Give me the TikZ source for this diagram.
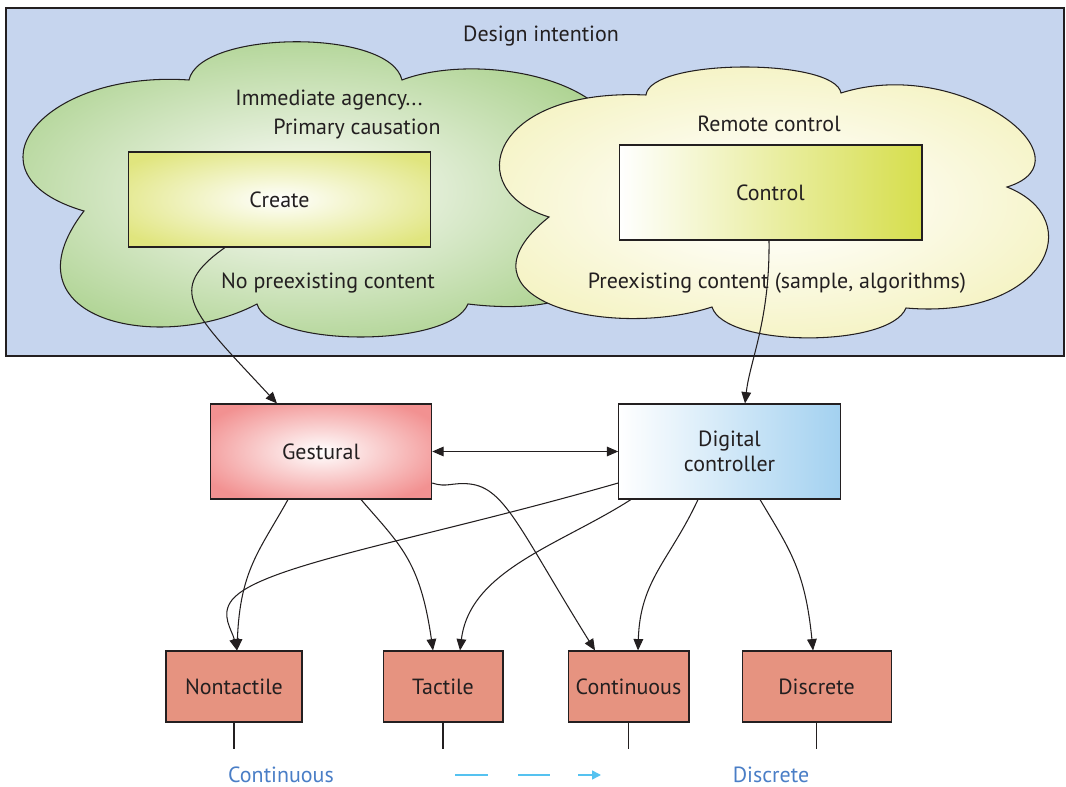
\documentclass[tikz,border=0pt]{standalone}
\usepackage{xcolor}
\usepackage{fontspec}
\setmainfont{PT Sans}
\usepackage{tikz}
\usetikzlibrary{positioning, arrows.meta}

\definecolor{skyback}{HTML}{C6D5EE}
\definecolor{inkgray}{HTML}{231F20}
\definecolor{leafgreen}{HTML}{A8D08A}
\definecolor{leaflight}{HTML}{F2F6EC}
\definecolor{strawyel}{HTML}{F0EEAA}
\definecolor{strawlight}{HTML}{FDFCF0}
\definecolor{createyel}{HTML}{E0E57E}
\definecolor{ctrlgreen}{HTML}{D6DE4C}
\definecolor{gestred}{HTML}{F29191}
\definecolor{digiblue}{HTML}{A3D1F0}
\definecolor{salmon}{HTML}{E69380}
\definecolor{scaleblue}{HTML}{4A7EC6}
\definecolor{scalecyan}{HTML}{55C2F0}

\pgfdeclareradialshading{leafshade}{\pgfpoint{0bp}{0bp}}{color(0bp)=(leaflight); color(4bp)=(leaflight); color(27bp)=(leafgreen); color(50bp)=(leafgreen)}
\pgfdeclareradialshading{strawshade}{\pgfpoint{0bp}{0bp}}{color(0bp)=(strawlight); color(8bp)=(strawlight); color(34bp)=(strawyel); color(50bp)=(strawyel)}
\pgfdeclareradialshading{createshade}{\pgfpoint{0bp}{0bp}}{color(0bp)=(white); color(31bp)=(createyel); color(50bp)=(createyel)}
\pgfdeclareradialshading{gestshade}{\pgfpoint{0bp}{0bp}}{color(0bp)=(white); color(30bp)=(gestred); color(50bp)=(gestred)}

\begin{document}
\begin{tikzpicture}[
    x=0.02cm, y=-0.02cm,
    every node/.style={
        font=\fontsize{12.5}{14.5}\selectfont,
        text=inkgray,
        align=center
    },
    box/.style={draw=inkgray, line width=0.6pt, inner sep=0pt},
    bigbox/.style={box, minimum width=6.06cm, minimum height=1.9cm},
    midbox/.style={box, minimum width=4.43cm, minimum height=1.9cm},
    leafbox/.style={box, fill=salmon, minimum height=1.42cm},
    cloud/.style={draw=inkgray, line width=0.6pt},
    arrow/.style={-{Triangle[length=6.5pt,width=5.5pt]}, line width=0.6pt, draw=inkgray},
    stub/.style={line width=0.6pt, draw=inkgray},
    legend/.style={text=scaleblue},
    scaleline/.style={draw=scalecyan, line width=0.9pt}
]
\useasboundingbox (0,0) rectangle (1066,787);

\filldraw[fill=skyback, draw=inkgray, line width=0.6pt] (6,8) rectangle (1064,356);
\node (title) at (541,36) {Design intention};

\shadedraw[cloud, shading=leafshade]
    (84,211) .. controls (-40,175) and (40,70) .. (189,80)
    .. controls (200,30) and (390,28) .. (402,80)
    .. controls (480,50) and (650,80) .. (620,180)
    .. controls (640,260) and (600,320) .. (468,304)
    .. controls (450,348) and (270,348) .. (257,304)
    .. controls (160,355) and (0,320) .. (84,211) -- cycle;

\shadedraw[cloud, shading=strawshade]
    (646,95) .. controls (650,58) and (835,58) .. (841,93)
    .. controls (960,55) and (1095,160) .. (1007,187)
    .. controls (1090,220) and (1045,320) .. (906,308)
    .. controls (890,348) and (725,348) .. (712,307)
    .. controls (610,340) and (445,300) .. (549,217)
    .. controls (460,190) and (490,88) .. (646,95) -- cycle;

\node[bigbox, shade, shading=createshade] (create) at (279.5,199.5) {Create};
\node[bigbox, left color=white, right color=ctrlgreen] (control) at (770.5,192.5) {Control};

\node (agency) at (329,100) {Immediate agency...};
\node (causation) at (357,129) {Primary causation};
\node (nocontent) at (328,283) {No preexisting content};
\node (remote) at (769,124) {Remote control};
\node (content) at (777,283) {Preexisting content (sample, algorithms)};

\node[midbox, shade, shading=gestshade] (gest) at (321,451.5) {Gestural};
\node[midbox, left color=white, right color=digiblue] (digital) at (729.5,451.5) {Digital\\controller};

\node[leafbox, minimum width=2.72cm] (nontactile) at (234,686.5) {Nontactile};
\node[leafbox, minimum width=2.4cm, right=1.6cm of nontactile] (tactile) {Tactile};
\node[leafbox, minimum width=2.42cm, right=1.28cm of tactile] (continuous) {Continuous};
\node[leafbox, minimum width=2.98cm, right=1.04cm of continuous] (discrete) {Discrete};

\draw[arrow] ([xshift=-1.09cm]create.south) .. controls (165,290) and (190,310) .. ([xshift=-0.88cm]gest.north);
\draw[arrow] ([xshift=-0.03cm]control.south) .. controls (770,320) and (750,360) .. ([xshift=0.31cm]digital.north);
\draw[{Triangle[length=6.5pt,width=5.5pt]}-{Triangle[length=6.5pt,width=5.5pt]}, line width=0.6pt, draw=inkgray] (gest) -- (digital);

\draw[arrow] ([xshift=-0.66cm]gest.south) .. controls (260,550) and (240,570) .. ([xshift=0.06cm]nontactile.north);
\draw[arrow] ([xshift=0.8cm]gest.south) .. controls (400,545) and (420,560) .. ([xshift=-0.2cm]tactile.north);
\draw[arrow] ([yshift=-0.63cm]gest.east) .. controls (447,488) and (452,482) .. (470,484)
    .. controls (505,488) and (520,530) .. ([xshift=-0.67cm]continuous.north);

\draw[arrow] ([yshift=-0.63cm]digital.west) .. controls (420,540) and (260,565) .. (232,600)
    .. controls (220,615) and (232,630) .. ([xshift=0.06cm]nontactile.north);
\draw[arrow] ([xshift=-1.97cm]digital.south) .. controls (560,545) and (470,570) .. ([xshift=0.34cm]tactile.north);
\draw[arrow] ([xshift=-0.63cm]digital.south) .. controls (670,560) and (640,580) .. ([xshift=0.19cm]continuous.north);
\draw[arrow] ([xshift=0.61cm]digital.south) .. controls (790,550) and (805,570) .. ([xshift=-0.07cm]discrete.north);

\draw[stub] (nontactile.south) -- ++(0,26);
\draw[stub] (tactile.south) -- ++(0,26);
\draw[stub] (continuous.south) -- ++(0,26);
\draw[stub] (discrete.south) -- ++(0,26);

\node[legend] (contlabel) at (281,775) {Continuous};
\node[legend] (disclabel) at (771,775) {Discrete};
\coordinate (dashA1) at (455,775);
\coordinate (dashA2) at (488,775);
\coordinate (dashB1) at (518,775);
\coordinate (dashB2) at (550,775);
\coordinate (dashC1) at (578,775);
\coordinate (dashC2) at (601,775);
\draw[scaleline] (dashA1) -- (dashA2);
\draw[scaleline] (dashB1) -- (dashB2);
\draw[scaleline, -{Triangle[length=5pt,width=5pt]}, fill=scalecyan] (dashC1) -- (dashC2);

\end{tikzpicture}
\end{document}
